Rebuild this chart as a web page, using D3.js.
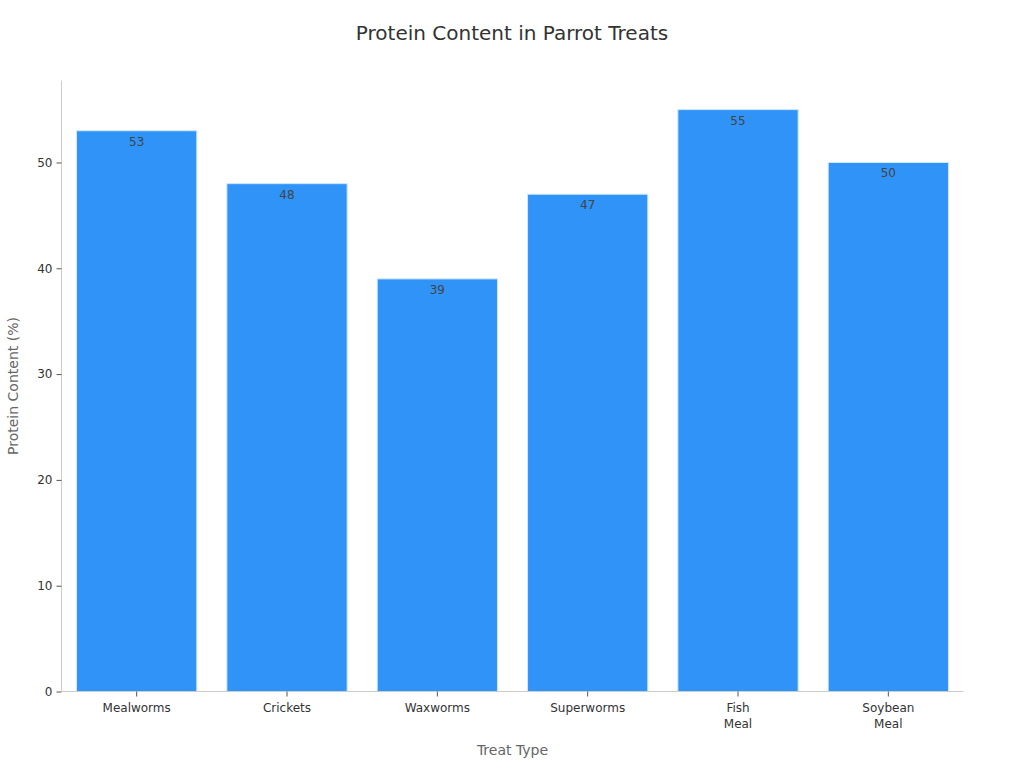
<!DOCTYPE html>
<html><head><meta charset="utf-8">
<script src="https://cdn.jsdelivr.net/npm/d3@7"></script>
<style>body{margin:0;background:#fff;font-family:"DejaVu Sans",sans-serif}</style>
</head><body><svg id="c" width="1024" height="768"></svg>
<script>
const categories = ["Mealworms","Crickets","Waxworms","Superworms","Fish\nMeal","Soybean\nMeal"];
const values = [53,48,39,47,55,50];
const yTicks = [0,10,20,30,40,50];

const svg = d3.select("#c");
const m = {l:61.5, r:60.5, t:80.5, b:76.5};
const W = 1024, H = 768;
const x = d3.scaleBand().domain(categories).range([m.l, W-m.r]).paddingInner(0.2).paddingOuter(0.1);
const y = d3.scaleLinear().domain([0, d3.max(values)*1.05]).range([H-m.b, m.t]);

svg.append("text").attr("x",512).attr("y",40).attr("text-anchor","middle")
  .attr("font-size",20).attr("fill","#333").text("Protein Content in Parrot Treats");

svg.selectAll("rect.bar").data(values).join("rect").attr("class","bar")
  .attr("x",(d,i)=>x(categories[i])).attr("width",x.bandwidth())
  .attr("y",d=>y(d)).attr("height",d=>y(0)-y(d))
  .attr("fill","#2f93f8").attr("stroke","#cfe6fd").attr("stroke-width",1);

svg.selectAll("text.val").data(values).join("text").attr("class","val")
  .attr("x",(d,i)=>x(categories[i])+x.bandwidth()/2).attr("y",d=>y(d)+15)
  .attr("text-anchor","middle").attr("font-size",12).attr("fill","#444").text(d=>d);

const ya = svg.append("g").attr("transform",`translate(${m.l},0)`)
  .call(d3.axisLeft(y).tickValues(yTicks).tickSize(5).tickPadding(4));
ya.select(".domain").attr("stroke","#ccc").attr("d",`M0,${m.t}V${H-m.b}`);
ya.selectAll(".tick line").attr("stroke","#555");
ya.selectAll(".tick text").attr("font-size",12).attr("fill","#333").attr("font-family","DejaVu Sans");

const xa = svg.append("g").attr("transform",`translate(0,${H-m.b})`)
  .call(d3.axisBottom(x).tickSize(5).tickPadding(6).tickFormat(""));
xa.select(".domain").attr("stroke","#ccc").attr("d",`M${m.l},0H${W-m.r}`);
xa.selectAll(".tick line").attr("stroke","#555");
xa.selectAll(".tick").each(function(d){
  const t = d3.select(this).append("text").attr("fill","#333").attr("font-size",12)
    .attr("text-anchor","middle").attr("font-family","DejaVu Sans");
  d.split("\n").forEach((s,i)=>t.append("tspan").attr("x",0).attr("y",20+i*16).text(s));
});

svg.append("text").attr("x",(m.l+W-m.r)/2).attr("y",755).attr("text-anchor","middle")
  .attr("font-size",14).attr("fill","#666").text("Treat Type");
svg.append("text").attr("transform",`translate(18,${(m.t+H-m.b)/2}) rotate(-90)`)
  .attr("text-anchor","middle").attr("font-size",14).attr("fill","#666").text("Protein Content (%)");
</script></body></html>
